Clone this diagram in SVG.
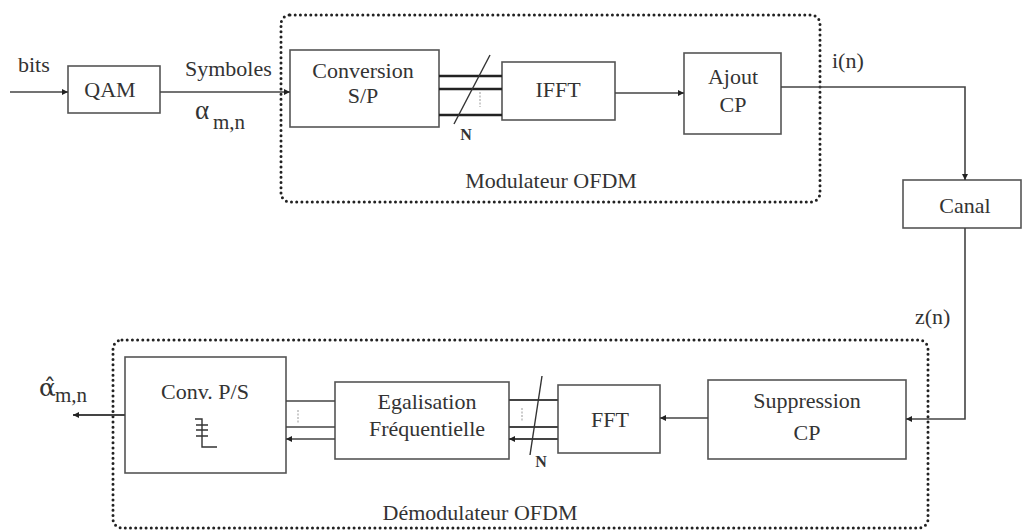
<svg xmlns="http://www.w3.org/2000/svg" width="1023" height="531" viewBox="0 0 1023 531">
<style>
text{font-family:"Liberation Serif","Tinos","Times New Roman","DejaVu Serif",serif;fill:#333;font-size:22px}
.c{text-anchor:middle}
.box{fill:#fff;stroke:#555;stroke-width:1.6}
.dot{fill:none;stroke:#222;stroke-width:3;stroke-dasharray:0 5.2;stroke-linecap:round}
.ln{fill:none;stroke:#444;stroke-width:1.6}
.bus{fill:none;stroke:#222;stroke-width:2.6}
.bus2{fill:none;stroke:#444;stroke-width:2}
.thin{fill:none;stroke:#999;stroke-width:1;stroke-dasharray:2 1.5}
.sl{fill:none;stroke:#333;stroke-width:1.4}
.n{font-size:16px;font-weight:bold}
</style>
<defs>
<marker id="ah" viewBox="0 0 10 10" refX="10" refY="5" markerWidth="9" markerHeight="6" markerUnits="userSpaceOnUse" orient="auto">
<path d="M0,0L10,5L0,10z" fill="#222"/>
</marker>
</defs>
<g id="modulateur">
<rect class="dot" x="281" y="15" width="539" height="187" rx="9"/>
<text class="c" x="551" y="188">Modulateur OFDM</text>
</g>
<g id="demodulateur">
<rect class="dot" x="113" y="340" width="815" height="188" rx="9"/>
<text class="c" x="480" y="520">Démodulateur OFDM</text>
</g>
<g id="qam"><rect class="box" x="68" y="66" width="92" height="47"/><text class="c" x="110" y="97">QAM</text></g>
<g id="conversion"><rect class="box" x="290" y="50" width="149" height="77"/><text class="c" x="363" y="78">Conversion</text><text class="c" x="363" y="103">S/P</text></g>
<g id="ifft"><rect class="box" x="502" y="62" width="113" height="58"/><text class="c" x="558" y="97">IFFT</text></g>
<g id="ajout"><rect class="box" x="684" y="53" width="97" height="81"/><text class="c" x="733" y="84">Ajout</text><text class="c" x="733" y="112">CP</text></g>
<g id="canal"><rect class="box" x="903" y="180" width="118" height="48"/><text class="c" x="965" y="213">Canal</text></g>
<g id="suppression"><rect class="box" x="708" y="380" width="198" height="79"/><text class="c" x="807" y="408">Suppression</text><text class="c" x="807" y="440">CP</text></g>
<g id="fft"><rect class="box" x="558" y="385" width="102" height="68"/><text class="c" x="610" y="427">FFT</text></g>
<g id="egalisation"><rect class="box" x="335" y="382" width="174" height="77"/><text class="c" x="427" y="409">Egalisation</text><text class="c" x="427" y="436">Fréquentielle</text></g>
<g id="convps"><rect class="box" x="125" y="357" width="161" height="116"/><text class="c" x="205" y="399">Conv. P/S</text>
<path class="sl" d="M195,419H202V447H217M196,425H208M196,430H208M196,436H208"/></g>
<g id="connectors">
<path class="ln" d="M10,92H68" marker-end="url(#ah)"/>
<path class="ln" d="M160,92H290" marker-end="url(#ah)"/>
<path class="bus" d="M439,76H502M439,89H502M439,115H502"/>
<path class="sl" d="M490,55L454,124"/>
<path class="thin" d="M480,92V107"/>
<path class="ln" d="M615,93H684" marker-end="url(#ah)"/>
<path class="ln" d="M781,87H965V180" marker-end="url(#ah)"/>
<path class="ln" d="M965,228V419H906" marker-end="url(#ah)"/>
<path class="ln" d="M708,418H660" marker-end="url(#ah)"/>
<path class="bus2" d="M558,400H509M558,427H509M558,439H509" marker-end="url(#ah)"/>
<path class="sl" d="M542,376L530,455"/>
<path class="thin" d="M522,408V421"/>
<path class="ln" d="M335,401H286M335,427H286M335,439H286" marker-end="url(#ah)"/>
<path class="thin" d="M298,410V423"/>
<path class="bus2" d="M125,415H73" marker-end="url(#ah)"/>
</g>
<g id="labels">
<text x="18" y="72">bits</text>
<text x="185" y="76">Symboles</text>
<text x="195" y="119" style="font-size:27px">α</text><text x="213" y="129" style="font-size:21px">m,n</text>
<text class="n c" x="466" y="140">N</text>
<text class="n c" x="541" y="467">N</text>
<text x="832" y="68">i(n)</text>
<text x="915" y="324">z(n)</text>
<text x="39" y="396" style="font-size:25px;font-family:'DejaVu Serif',serif">α̂</text><text x="55" y="402" style="font-size:21px">m,n</text>
</g>
</svg>
